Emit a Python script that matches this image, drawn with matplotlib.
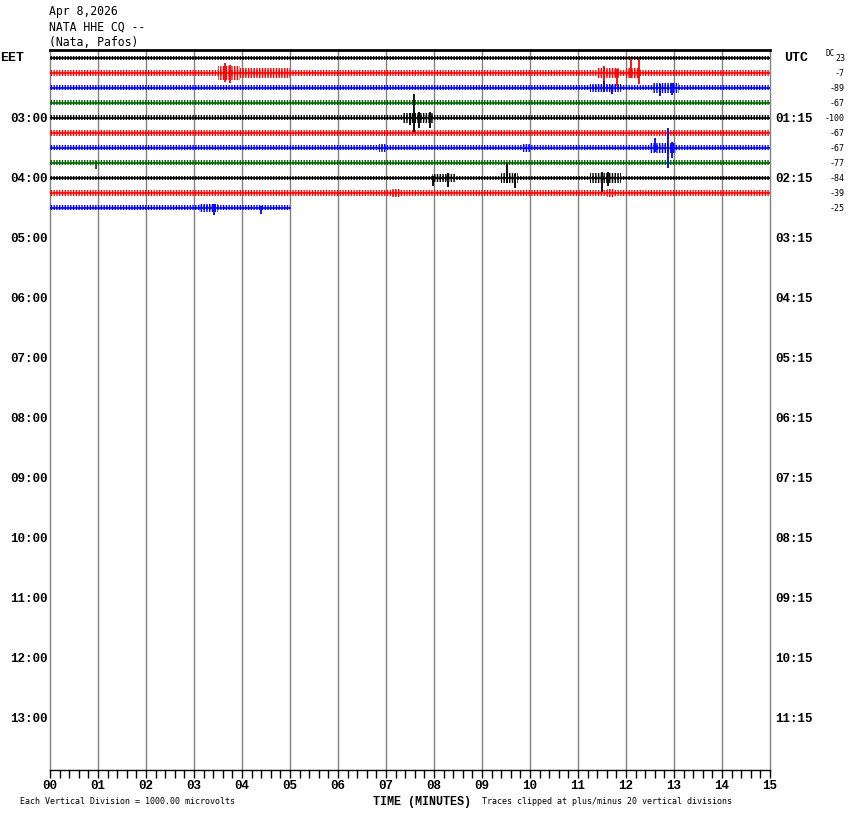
import matplotlib
matplotlib.use("Agg")
import matplotlib.pyplot as plt
from matplotlib.ticker import MultipleLocator

W, H = 850, 814

header = ["Apr 8,2026", "NATA HHE CQ --", "(Nata, Pafos)"]
colors = ["black", "red", "blue", "#006400"]

# one trace per 15 minute row, top to bottom
dc_offsets = [23, -7, -89, -67, -100, -67, -67, -77, -84, -39, -25]
trace_end = [15, 15, 15, 15, 15, 15, 15, 15, 15, 15, 5.0]
noise_amp = [2.0, 3.0, 2.5, 2.5, 2.5, 3.0, 2.5, 2.5, 2.0, 3.0, 2.5]  # half width, px

# (row, start min, end min, half amplitude px)
bursts = [
    (1, 3.50, 3.95, 7), (1, 3.95, 5.00, 5), (1, 11.40, 11.85, 5), (1, 12.00, 12.30, 5),
    (2, 11.25, 11.90, 4), (2, 12.55, 13.10, 5),
    (4, 7.35, 8.00, 5),
    (6, 6.85, 7.00, 4), (6, 9.85, 10.00, 4), (6, 12.50, 13.05, 5),
    (8, 7.95, 8.45, 4), (8, 9.40, 9.75, 5), (8, 11.25, 11.90, 5),
    (9, 7.10, 7.30, 4), (9, 11.60, 11.75, 4),
    (10, 3.10, 3.50, 4),
]
# (row, minute, px up, px down)
spikes = [
    (1, 3.65, 10, 9), (1, 3.75, 8, 10), (1, 11.55, 7, 11), (1, 11.82, 4, 13),
    (1, 12.10, 14, 5), (1, 12.28, 14, 11),
    (2, 11.55, 7, 4), (2, 11.70, 3, 6), (2, 12.70, 4, 8), (2, 12.95, 5, 7),
    (4, 7.50, 5, 7), (4, 7.58, 24, 14), (4, 7.68, 6, 10), (4, 7.92, 6, 10),
    (6, 12.60, 10, 4), (6, 12.88, 20, 20), (6, 12.95, 6, 10),
    (7, 0.95, 2, 6),
    (8, 7.98, 2, 8), (8, 8.30, 5, 9), (8, 9.52, 15, 5), (8, 9.68, 4, 10),
    (8, 11.50, 6, 14), (8, 11.62, 6, 8),
    (10, 3.42, 4, 7), (10, 4.40, 2, 6),
]

left_labels = ["03:00", "04:00", "05:00", "06:00", "07:00", "08:00",
               "09:00", "10:00", "11:00", "12:00", "13:00"]
right_labels = ["01:15", "02:15", "03:15", "04:15", "05:15", "06:15",
                "07:15", "08:15", "09:15", "10:15", "11:15"]

ROW_PX = 15.0
mono = "DejaVu Sans Mono"
bold_mono = "Liberation Mono"
plt.rcParams["hatch.linewidth"] = 1.0

fig = plt.figure(figsize=(W / 100, H / 100), dpi=100)
ax = fig.add_axes([50 / W, 1 - 770 / H, 720 / W, 720 / H])
ax.set_xlim(0, 15)
ax.set_ylim(48, 0)


def fx(px):
    return px / W


def fy(py):
    return 1 - py / H


# minute grid lines
for m in range(16):
    ax.axvline(m, color="#808080", lw=1, zorder=1, clip_on=False)

# traces: thin line plus a hatched band for the noise
for i, dc in enumerate(dc_offsets):
    c = colors[i % 4]
    yc = i + 0.5
    a = noise_amp[i] / ROW_PX
    ax.fill_between([0, trace_end[i]], yc - a, yc + a, facecolor="none",
                    edgecolor=c, hatch="||||||", lw=0, zorder=3)
    ax.plot([0, trace_end[i]], [yc, yc], color=c, lw=1.2, zorder=3)
for row, s, e, amp in bursts:
    yc = row + 0.5
    ax.fill_between([s, e], yc - amp / ROW_PX, yc + amp / ROW_PX, facecolor="none",
                    edgecolor=colors[row % 4], hatch="||||||", lw=0, zorder=3)
for row, m, up, dn in spikes:
    yc = row + 0.5
    ax.vlines(m, yc - up / ROW_PX, yc + dn / ROW_PX, color=colors[row % 4], lw=1.3, zorder=4)

# frame
for side in ["left", "right"]:
    ax.spines[side].set_visible(False)
ax.spines["top"].set_linewidth(2)
ax.spines["bottom"].set_linewidth(1)
ax.set_yticks([])
ax.set_xticks(range(16))
ax.set_xticklabels([f"{m:02d}" for m in range(16)], fontfamily=bold_mono,
                   fontweight="bold", fontsize=9)
ax.xaxis.set_minor_locator(MultipleLocator(0.2))
ax.tick_params(axis="x", which="both", direction="out", length=6, width=1,
               color="black", pad=1)

# header
for k, line in enumerate(header):
    fig.text(fx(49), fy(12 + 15 * k), line, fontfamily=mono, fontsize=8.3,
             va="center", ha="left")

# hour labels
fig.text(fx(0), fy(58), "EET", fontfamily=bold_mono, fontweight="bold",
         fontsize=9.5, va="center", ha="left")
fig.text(fx(784), fy(58), "UTC", fontfamily=bold_mono, fontweight="bold",
         fontsize=9.5, va="center", ha="left")
for k, (lt, rt) in enumerate(zip(left_labels, right_labels)):
    y = 50 + (4 * (k + 1) + 0.5) * ROW_PX + 1.5
    fig.text(fx(48), fy(y), lt, fontfamily=bold_mono, fontweight="bold",
             fontsize=9, va="center", ha="right")
    fig.text(fx(775), fy(y), rt, fontfamily=bold_mono, fontweight="bold",
             fontsize=9, va="center", ha="left")

# DC offsets
fig.text(fx(825), fy(53), "DC", fontfamily=mono, fontsize=5.5, va="center", ha="left")
for i, dc in enumerate(dc_offsets):
    y = 50 + (i + 0.5) * ROW_PX
    fig.text(fx(845), fy(y + 1), str(dc), fontfamily=mono, fontsize=6,
             va="center", ha="right")

# footer
fig.text(fx(20), fy(801), "Each Vertical Division = 1000.00 microvolts",
         fontfamily=mono, fontsize=6, va="center", ha="left")
fig.text(fx(373), fy(802), "TIME (MINUTES)", fontfamily=bold_mono,
         fontweight="bold", fontsize=8.5, va="center", ha="left")
fig.text(fx(482), fy(801), "Traces clipped at plus/minus 20 vertical divisions",
         fontfamily=mono, fontsize=6, va="center", ha="left")

fig.savefig("out.png", dpi=100)
